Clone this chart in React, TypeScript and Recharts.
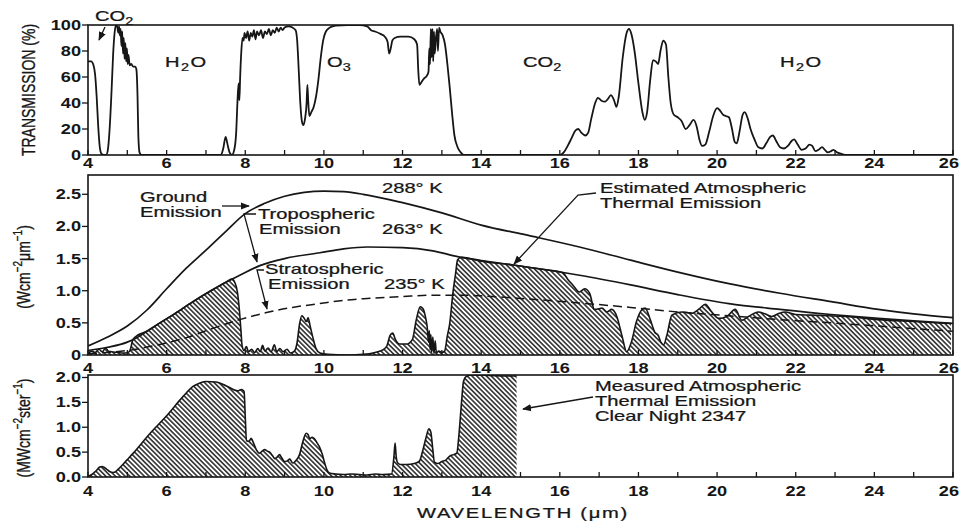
import React from 'react';
import { ComposedChart, Line, Area, XAxis, YAxis } from 'recharts';

const INK = '#161616';
const FONT = '"Liberation Sans", Arial, Helvetica, sans-serif';

// [wavelength µm, transmission %]
const TRANSMISSION = [
  [4.0, 72], [4.08, 72], [4.14, 69], [4.18, 62], [4.22, 45], [4.26, 22], [4.3, 6], [4.34, 1], [4.4, 0], [4.46, 0],
  [4.5, 3], [4.55, 20], [4.6, 50], [4.64, 78], [4.68, 95], [4.71, 100], [4.74, 99], [4.77, 94], [4.79, 99], [4.81, 92],
  [4.83, 97], [4.85, 84], [4.87, 95], [4.89, 78], [4.91, 90], [4.93, 74], [4.95, 86], [4.97, 72], [4.99, 82], [5.01, 70],
  [5.03, 77], [5.06, 69], [5.1, 70], [5.15, 68], [5.2, 68], [5.23, 66], [5.26, 45], [5.28, 15], [5.31, 2], [5.36, 0],
  [7.38, 0], [7.44, 5], [7.5, 14], [7.55, 8], [7.6, 2], [7.66, 0], [7.72, 4], [7.77, 18], [7.8, 40], [7.83, 55],
  [7.85, 42], [7.87, 60], [7.9, 80], [7.93, 90], [7.96, 88], [7.98, 94], [8.02, 90], [8.06, 95], [8.1, 88], [8.14, 94],
  [8.18, 91], [8.22, 96], [8.26, 89], [8.3, 95], [8.35, 92], [8.4, 96], [8.45, 90], [8.5, 95], [8.55, 93], [8.6, 97],
  [8.65, 92], [8.7, 96], [8.75, 94], [8.8, 98], [8.85, 95], [8.9, 98], [8.95, 96], [9.0, 98], [9.1, 99], [9.2, 98],
  [9.28, 96], [9.32, 88], [9.36, 65], [9.4, 40], [9.44, 26], [9.48, 23], [9.52, 28], [9.56, 40], [9.58, 54], [9.6, 42],
  [9.63, 30], [9.68, 33], [9.74, 37], [9.8, 45], [9.86, 58], [9.92, 75], [9.98, 88], [10.05, 95], [10.15, 98], [10.3, 99.5],
  [10.6, 100], [10.9, 100], [11.1, 99], [11.2, 96], [11.3, 95], [11.45, 93], [11.55, 91], [11.62, 87], [11.66, 78], [11.7, 82],
  [11.74, 88], [11.8, 90], [11.95, 91], [12.15, 91], [12.3, 89], [12.37, 85], [12.4, 65], [12.43, 54], [12.48, 56], [12.55, 59],
  [12.62, 61], [12.66, 64], [12.68, 82], [12.7, 70], [12.72, 97], [12.74, 75], [12.76, 97], [12.78, 72], [12.8, 95], [12.82, 78],
  [12.85, 90], [12.88, 97], [12.9, 80], [12.93, 98], [12.96, 95], [13.02, 92], [13.08, 85], [13.14, 70], [13.2, 52], [13.26, 32],
  [13.32, 15], [13.4, 6], [13.48, 2], [13.56, 0], [16.0, 0], [16.1, 2], [16.2, 7], [16.3, 13], [16.4, 19], [16.47, 20],
  [16.55, 17], [16.65, 15], [16.72, 17], [16.8, 28], [16.9, 40], [16.97, 44], [17.05, 42], [17.15, 41], [17.22, 43], [17.3, 46],
  [17.38, 42], [17.44, 37], [17.5, 45], [17.6, 75], [17.7, 94], [17.76, 97], [17.82, 93], [17.9, 80], [18.0, 55], [18.1, 33],
  [18.16, 27], [18.22, 33], [18.3, 58], [18.37, 73], [18.44, 72], [18.5, 70], [18.56, 80], [18.63, 88], [18.7, 85], [18.76, 60],
  [18.82, 40], [18.9, 31], [19.0, 29], [19.1, 26], [19.2, 20], [19.3, 23], [19.4, 27], [19.48, 22], [19.55, 12], [19.62, 7],
  [19.7, 8], [19.8, 18], [19.9, 30], [20.0, 36], [20.08, 34], [20.15, 31], [20.22, 30], [20.3, 29], [20.38, 20], [20.45, 10],
  [20.5, 9], [20.57, 18], [20.65, 31], [20.7, 33], [20.78, 28], [20.85, 20], [20.95, 12], [21.05, 6], [21.15, 5], [21.25, 9],
  [21.35, 14], [21.42, 15], [21.5, 11], [21.6, 6], [21.7, 5], [21.8, 7], [21.9, 11], [21.96, 12], [22.05, 8], [22.15, 4],
  [22.25, 5], [22.35, 8], [22.42, 7], [22.5, 3], [22.58, 4], [22.67, 6], [22.74, 4], [22.82, 2], [22.9, 3], [22.96, 4],
  [23.05, 2], [23.15, 1], [23.3, 0], [26, 0],
];

// blackbody curves, W cm^-2 µm^-1
const GROUND_288K = [
  [4, 0.14], [4.5, 0.28], [5, 0.45], [5.5, 0.7], [6, 1.03], [6.5, 1.35], [7, 1.63], [7.5, 1.92], [8, 2.2], [8.5, 2.36],
  [9, 2.47], [9.5, 2.53], [10, 2.55], [10.5, 2.54], [11, 2.5], [12, 2.37], [13, 2.21], [14, 2.02], [15.2, 1.86], [16.5, 1.68],
  [17.8, 1.475], [19, 1.29], [20.3, 1.11], [21.6, 0.96], [22.9, 0.83], [24.1, 0.71], [25, 0.64], [26, 0.58],
];
const TROPO_263K = [
  [4, 0.07], [4.5, 0.12], [5, 0.2], [5.24, 0.27], [5.5, 0.37], [5.83, 0.5], [6.2, 0.64], [6.67, 0.83], [7.1, 0.99], [7.53, 1.14],
  [7.86, 1.24], [8.37, 1.39], [9, 1.5], [9.9, 1.59], [10.5, 1.65], [11.1, 1.68], [12, 1.67], [12.77, 1.62], [13.4, 1.53], [14, 1.47],
  [14.8, 1.4], [15.6, 1.33], [16.5, 1.24], [17.8, 1.09], [19, 0.94], [20.3, 0.8], [21.6, 0.71], [22.9, 0.63], [24.1, 0.57], [25, 0.53],
  [26, 0.49],
];
const STRATO_235K = [
  [4, 0.02], [4.5, 0.04], [5, 0.07], [5.3, 0.1], [5.8, 0.16], [6.5, 0.27], [7.2, 0.42], [7.86, 0.55], [8.54, 0.66], [9.2, 0.74],
  [9.9, 0.8], [10.5, 0.85], [11.1, 0.88], [12, 0.91], [12.77, 0.93], [13.5, 0.93], [14, 0.92], [15, 0.88], [16.5, 0.81], [17.8, 0.74],
  [19, 0.67], [20.3, 0.61], [21.6, 0.55], [22.9, 0.5], [24.1, 0.45], [25, 0.41], [26, 0.37],
];

// estimated atmospheric thermal emission (hatched, middle panel)
const ESTIMATED = [
  [4.0, 0.03], [4.1, 0.06], [4.18, 0.04], [4.28, 0.09], [4.36, 0.05], [4.45, 0.11], [4.52, 0.06], [4.6, 0.05], [4.75, 0.04], [4.9, 0.03],
  [5.02, 0.04], [5.08, 0.09], [5.13, 0.22], [5.2, 0.28], [5.5, 0.37], [5.83, 0.5], [6.2, 0.64], [6.67, 0.83], [7.1, 0.99], [7.5, 1.13],
  [7.66, 1.18], [7.74, 1.12], [7.8, 0.98], [7.85, 0.7], [7.89, 0.38], [7.92, 0.14], [7.97, 0.07], [8.03, 0.13], [8.08, 0.05], [8.16, 0.09],
  [8.24, 0.04], [8.32, 0.1], [8.38, 0.05], [8.44, 0.15], [8.5, 0.06], [8.58, 0.11], [8.66, 0.05], [8.74, 0.16], [8.8, 0.05], [8.88, 0.1],
  [8.96, 0.05], [9.06, 0.09], [9.15, 0.03], [9.25, 0.06], [9.32, 0.2], [9.38, 0.48], [9.44, 0.61], [9.5, 0.57], [9.55, 0.52], [9.6, 0.58],
  [9.65, 0.45], [9.72, 0.27], [9.8, 0.1], [9.9, 0.03], [10.1, 0.01], [10.6, 0.0], [11.0, 0.01], [11.3, 0.04], [11.5, 0.08], [11.6, 0.14],
  [11.68, 0.3], [11.75, 0.34], [11.82, 0.24], [11.92, 0.17], [12.1, 0.17], [12.25, 0.24], [12.35, 0.55], [12.45, 0.75], [12.52, 0.72], [12.58, 0.6],
  [12.63, 0.42], [12.66, 0.2], [12.68, 0.38], [12.7, 0.08], [12.72, 0.32], [12.74, 0.04], [12.77, 0.28], [12.8, 0.02], [12.83, 0.22], [12.86, 0.03],
  [12.92, 0.06], [13.0, 0.04], [13.07, 0.06], [13.14, 0.3], [13.2, 0.49], [13.28, 0.96], [13.35, 1.27], [13.4, 1.48], [13.5, 1.52], [14.0, 1.46],
  [14.8, 1.4], [15.6, 1.33], [16.08, 1.28], [16.2, 1.18], [16.33, 1.09], [16.5, 0.98], [16.63, 1.03], [16.76, 0.96], [16.82, 0.82], [16.87, 0.71],
  [17.0, 0.72], [17.07, 0.73], [17.2, 0.67], [17.32, 0.71], [17.45, 0.6], [17.58, 0.3], [17.7, 0.05], [17.82, 0.2], [17.95, 0.52], [18.08, 0.7],
  [18.17, 0.73], [18.3, 0.55], [18.42, 0.35], [18.5, 0.31], [18.57, 0.2], [18.64, 0.16], [18.72, 0.3], [18.85, 0.62], [19.1, 0.67], [19.36, 0.65],
  [19.55, 0.72], [19.7, 0.79], [19.85, 0.68], [20.04, 0.57], [20.25, 0.6], [20.46, 0.71], [20.63, 0.54], [20.8, 0.6], [21.05, 0.67], [21.22, 0.64],
  [21.39, 0.6], [21.55, 0.64], [21.73, 0.67], [22.0, 0.63], [22.4, 0.62], [22.8, 0.61], [23.25, 0.6], [24.1, 0.55], [25, 0.52], [25.95, 0.49],
];

// measured emission, clear night 2347 (MW cm^-2 ster^-1), record stops at 14.9 µm
const MEASURED = [
  [4.0, 0.01], [4.1, 0.05], [4.2, 0.12], [4.3, 0.2], [4.36, 0.21], [4.47, 0.16], [4.55, 0.11], [4.64, 0.09], [4.72, 0.12], [4.8, 0.18],
  [5.0, 0.35], [5.14, 0.47], [5.57, 0.87], [6.0, 1.23], [6.42, 1.62], [6.67, 1.82], [6.85, 1.89], [7.0, 1.92], [7.26, 1.91], [7.52, 1.83],
  [7.81, 1.73], [7.9, 1.76], [7.97, 1.72], [8.0, 1.2], [8.03, 0.73], [8.1, 0.72], [8.15, 0.78], [8.2, 0.7], [8.28, 0.55], [8.36, 0.48],
  [8.43, 0.52], [8.49, 0.55], [8.56, 0.52], [8.62, 0.5], [8.7, 0.42], [8.75, 0.37], [8.81, 0.4], [8.87, 0.45], [8.93, 0.38], [9.0, 0.31],
  [9.08, 0.33], [9.13, 0.36], [9.21, 0.28], [9.3, 0.34], [9.38, 0.45], [9.46, 0.7], [9.55, 0.88], [9.6, 0.85], [9.64, 0.77], [9.7, 0.8],
  [9.76, 0.77], [9.83, 0.68], [9.89, 0.6], [9.96, 0.45], [10.02, 0.28], [10.08, 0.14], [10.14, 0.08], [10.3, 0.06], [10.5, 0.05], [10.7, 0.06],
  [10.9, 0.05], [11.1, 0.04], [11.3, 0.06], [11.5, 0.05], [11.72, 0.06], [11.78, 0.4], [11.81, 0.68], [11.84, 0.4], [11.88, 0.28], [11.95, 0.25],
  [12.1, 0.25], [12.3, 0.27], [12.43, 0.32], [12.52, 0.55], [12.6, 0.8], [12.67, 0.97], [12.72, 0.9], [12.77, 0.55], [12.81, 0.3], [12.9, 0.27],
  [13.0, 0.31], [13.1, 0.34], [13.2, 0.42], [13.3, 0.45], [13.38, 0.48], [13.44, 0.9], [13.5, 1.5], [13.55, 1.92], [13.62, 2.02], [13.8, 2.05],
  [14.2, 2.04], [14.6, 2.03], [14.9, 2.03],
];

const WAVE_TICKS = [4, 5, 6, 7, 8, 9, 10, 11, 12, 13, 14, 15, 16, 17, 18, 19, 20, 21, 22, 23, 24, 25, 26];
const TRANS_TICKS = [0, 20, 40, 60, 80, 100];
const FLUX_TICKS = [0, 0.5, 1, 1.5, 2, 2.5];
const MEAS_TICKS = [0, 0.5, 1, 1.5, 2];

const rows = (pairs: number[][]) => pairs.map(([x, v]) => ({ x, v }));

// horizontally widened text, the original lettering is broad
function Wide({ x, y, children, anchor = 'start', bold = false, sx = 1.44, size = 14, spacing = 0, rotate = 0 }: any) {
  return (
    <text
      transform={`translate(${x} ${y}) scale(${sx} 1)${rotate ? ` rotate(${rotate})` : ''}`}
      fontFamily={FONT}
      fontSize={size}
      fontWeight={bold ? 'bold' : 'normal'}
      textAnchor={anchor}
      letterSpacing={spacing}
      fill={INK}
      stroke={bold ? 'none' : INK}
      strokeWidth={bold ? 0 : 0.25}
    >
      {children}
    </text>
  );
}

const xTick = (labelDy: number) => (p: any) => {
  const v = p.payload.value;
  // the last label sits inside the right edge
  const last = v === 26;
  return (
    <g>
      <line x1={p.x} y1={p.y} x2={p.x} y2={p.y - 5} stroke={INK} strokeWidth={1.3} />
      {v % 2 === 0 ? (
        <Wide x={last ? p.x + 6 : p.x} y={p.y + labelDy} anchor={last ? 'end' : 'middle'} bold sx={1.3}>{v}</Wide>
      ) : null}
    </g>
  );
};

const yTick = (fmt: (v: number) => string) => (p: any) => (
  <g>
    <line x1={p.x - 6} y1={p.y} x2={p.x} y2={p.y} stroke={INK} strokeWidth={1.3} />
    <Wide x={p.x - 7} y={p.y + 5} anchor="end" bold sx={1.3}>{fmt(p.payload.value)}</Wide>
  </g>
);

function Panel({ top, height, marginTop, axisHeight, yMax, yTicks, yFmt, labelDy, children }: any) {
  return (
    <div style={{ position: 'absolute', left: 0, top, width: 961, height }}>
      <ComposedChart width={961} height={height} margin={{ top: marginTop, right: 8, bottom: 0, left: 0 }}>
        <XAxis
          dataKey="x" type="number" domain={[4, 26]} ticks={WAVE_TICKS} interval={0} allowDataOverflow
          axisLine={false} tickLine={false} tickSize={0} tickMargin={0} height={axisHeight} tick={xTick(labelDy)}
        />
        <YAxis
          type="number" domain={[0, yMax]} ticks={yTicks} interval={0} allowDataOverflow width={88}
          axisLine={false} tickLine={false} tickSize={0} tickMargin={0} tick={yTick(yFmt)}
        />
        {children}
      </ComposedChart>
    </div>
  );
}

function Sub({ children }: any) {
  return <tspan fontSize={10} dy={4}>{children}</tspan>;
}

export default function App() {
  const arrow = { stroke: INK, strokeWidth: 1.3, fill: 'none', markerEnd: 'url(#tip)' };
  return (
    <div style={{ position: 'absolute', left: 0, top: 0, width: 961, height: 523, background: '#fff' }}>
      <svg width={0} height={0} style={{ position: 'absolute' }}>
        <defs>
          <pattern id="hatch" width={3.4} height={3.4} patternUnits="userSpaceOnUse" patternTransform="rotate(-45)">
            <line x1={1.7} y1={0} x2={1.7} y2={3.4} stroke="#222" strokeWidth={1.5} />
          </pattern>
        </defs>
      </svg>

      <Panel top={0} height={175} marginTop={25} axisHeight={20} yMax={100} yTicks={TRANS_TICKS} yFmt={(v: number) => String(v)} labelDy={13}>
        <Line data={rows(TRANSMISSION)} dataKey="v" type="monotone" dot={false} stroke={INK} strokeWidth={1.8} isAnimationActive={false} />
      </Panel>

      <Panel top={160} height={215} marginTop={15} axisHeight={20} yMax={2.8} yTicks={FLUX_TICKS} yFmt={(v: number) => (v === 0 ? '0' : v.toFixed(1))} labelDy={18}>
        <Area data={rows(ESTIMATED)} dataKey="v" type="monotone" fill="url(#hatch)" fillOpacity={1} stroke={INK} strokeWidth={1.6} isAnimationActive={false} />
        <Line data={rows(STRATO_235K)} dataKey="v" type="monotone" dot={false} stroke={INK} strokeWidth={1.5} strokeDasharray="9 5" isAnimationActive={false} />
        <Line data={rows(TROPO_263K)} dataKey="v" type="monotone" dot={false} stroke={INK} strokeWidth={1.7} isAnimationActive={false} />
        <Line data={rows(GROUND_288K)} dataKey="v" type="monotone" dot={false} stroke={INK} strokeWidth={1.7} isAnimationActive={false} />
      </Panel>

      <Panel top={368} height={132} marginTop={7} axisHeight={23} yMax={2.05} yTicks={MEAS_TICKS} yFmt={(v: number) => v.toFixed(1)} labelDy={19}>
        <Area data={rows(MEASURED)} dataKey="v" type="monotone" fill="url(#hatch)" fillOpacity={1} stroke={INK} strokeWidth={1.6} isAnimationActive={false} />
      </Panel>

      <svg width={961} height={523} style={{ position: 'absolute', left: 0, top: 0, pointerEvents: 'none' }}>
        <defs>
          <marker id="tip" viewBox="0 0 10 10" refX={9} refY={5} markerWidth={9} markerHeight={9} markerUnits="userSpaceOnUse" orient="auto">
            <path d="M0,1 L10,5 L0,9 z" fill={INK} />
          </marker>
        </defs>

        {/* panel frames */}
        <rect x={88} y={25} width={865} height={130} fill="none" stroke={INK} strokeWidth={1.6} />
        <rect x={88} y={175} width={865} height={180} fill="none" stroke={INK} strokeWidth={1.6} />
        <rect x={88} y={375} width={865} height={102} fill="none" stroke={INK} strokeWidth={1.6} />

        {/* absorber labels */}
        <Wide x={95} y={21}>CO<Sub>2</Sub></Wide>
        <line x1={105} y1={27} x2={99} y2={40} {...arrow} />
        <Wide x={165} y={67} spacing={1}>H<Sub>2</Sub><tspan dy={-4}>O</tspan></Wide>
        <Wide x={327} y={67}>O<Sub>3</Sub></Wide>
        <Wide x={523} y={67}>CO<Sub>2</Sub></Wide>
        <Wide x={780} y={67} spacing={1}>H<Sub>2</Sub><tspan dy={-4}>O</tspan></Wide>

        {/* blackbody labels */}
        <Wide x={140} y={202}>Ground</Wide>
        <Wide x={140} y={217}>Emission</Wide>
        <line x1={222} y1={206} x2={249} y2={206} {...arrow} />
        <Wide x={382} y={193}>288° K</Wide>

        <Wide x={258} y={219}>Tropospheric</Wide>
        <Wide x={259} y={234}>Emission</Wide>
        <Wide x={382} y={234}>263° K</Wide>
        <polyline points="256,214 244,214 257,262" {...arrow} />

        <Wide x={265} y={274}>Stratospheric</Wide>
        <Wide x={268} y={289}>Emission</Wide>
        <Wide x={384} y={289}>235° K</Wide>
        <polyline points="264,270 257,270 267,309" {...arrow} />

        <Wide x={600} y={193}>Estimated Atmospheric</Wide>
        <Wide x={600} y={208}>Thermal Emission</Wide>
        <polyline points="596,193 578,195 514,264" {...arrow} />

        <Wide x={595} y={391}>Measured Atmospheric</Wide>
        <Wide x={595} y={406}>Thermal Emission</Wide>
        <Wide x={595} y={421}>Clear Night 2347</Wide>
        <line x1={593} y1={397} x2={523} y2={409} {...arrow} />

        {/* axis titles */}
        <Wide x={35} y={90} anchor="middle" rotate={-90} sx={1.35}>TRANSMISSION (%)</Wide>
        <Wide x={30} y={267} anchor="middle" rotate={-90} sx={1.35}>
          (Wcm<tspan fontSize={10} dy={-6}>−2</tspan><tspan dy={6}>μm</tspan><tspan fontSize={10} dy={-6}>−1</tspan><tspan dy={6}>)</tspan>
        </Wide>
        <Wide x={30} y={428} anchor="middle" rotate={-90} sx={1.35}>
          (MWcm<tspan fontSize={10} dy={-6}>−2</tspan><tspan dy={6}>ster</tspan><tspan fontSize={10} dy={-6}>−1</tspan><tspan dy={6}>)</tspan>
        </Wide>
        <Wide x={523} y={518} anchor="middle" spacing={1.2}>WAVELENGTH (μm)</Wide>
      </svg>
    </div>
  );
}
